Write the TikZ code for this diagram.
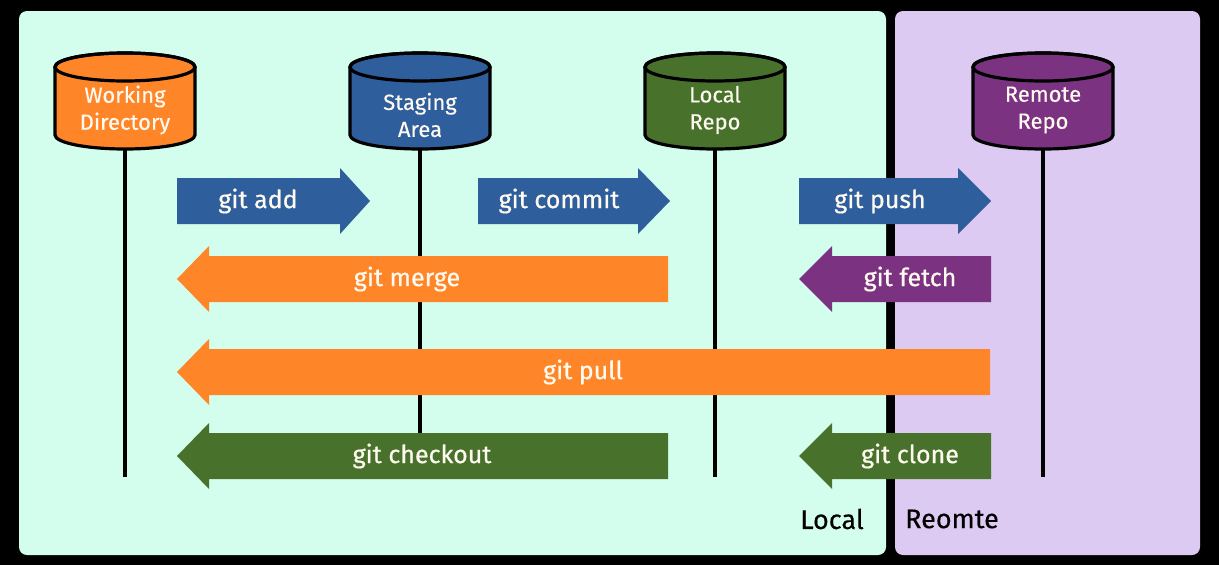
\documentclass[tikz,border=0pt]{standalone}
\usepackage{fontspec}
\setmainfont{Fira Sans}
\definecolor{bgblack}{HTML}{000000}
\definecolor{localbg}{HTML}{D3FDEC}
\definecolor{remotebg}{HTML}{DCCAF3}
\definecolor{gorange}{HTML}{FF8628}
\definecolor{gblue}{HTML}{2F5E9D}
\definecolor{ggreen}{HTML}{48722B}
\definecolor{gpurple}{HTML}{7B3381}
\definecolor{txtwhite}{HTML}{FFFAF0}
\begin{document}
\begin{tikzpicture}[x=1pt,y=1pt,
  panel/.style={rounded corners=8pt},
  cylbox/.style={minimum width=140pt,minimum height=96pt,inner sep=0pt},
  cyllabel/.style={text=txtwhite,font=\fontsize{22}{27}\selectfont\addfontfeatures{FakeBold=0.3},align=center,inner sep=0pt},
  cylshape/.style={draw=black,line width=3.2pt},
  lifeline/.style={draw=black,line width=3.2pt},
  arrowlbl/.style={text=txtwhite,font=\fontsize{25}{30}\selectfont\addfontfeatures{FakeBold=0.6},inner sep=0pt},
  panellbl/.style={text=black,font=\fontsize{27}{30}\selectfont\addfontfeatures{FakeBold=0.3},inner sep=0pt}
]
\fill[bgblack] (0,0) rectangle (1219,-565);
\useasboundingbox (0,0) rectangle (1219,-565);
\fill[localbg,panel] (19,-11) rectangle (886,-555);
\fill[remotebg,panel] (895,-11) rectangle (1200,-555);

% cylinders
\foreach \cx/\col in {125/gorange,420/gblue,715/ggreen,1043/gpurple}{
  \path[cylshape,fill=\col] (\cx-70,-67) -- (\cx-70,-135) arc (180:360:70 and 14) -- (\cx+70,-67) arc (0:180:70 and 14) -- cycle;
  \draw[cylshape] (\cx,-67) ellipse (70 and 14);
}
\node[cylbox] (wd) at (125,-101) {};
\node[cylbox] (sa) at (420,-101) {};
\node[cylbox] (lr) at (715,-101) {};
\node[cylbox] (rr) at (1043,-101) {};
\node[cyllabel] (wdt) at (125,-110) {Working\\Directory};
\node[cyllabel] (sat) at (420,-115) {Staging\\Area};
\node[cyllabel] (lrt) at (715,-110) {Local\\Repo};
\node[cyllabel] (rrt) at (1043,-110) {Remote\\Repo};

\coordinate (wdend) at (125,-477);
\coordinate (saend) at (420,-477);
\coordinate (lrend) at (715,-477);
\coordinate (rrend) at (1043,-477);
\draw[lifeline] (wd.south) -- (wdend);
\draw[lifeline] (sa.south) -- (saend);
\draw[lifeline] (lr.south) -- (lrend);
\draw[lifeline] (rr.south) -- (rrend);

% right arrows: body start, head base, tip, center y
\foreach \s/\b/\t/\y/\col in {177/340/370/-201/gblue,478/638/670/-201/gblue,799/958/991/-201/gblue}{
  \fill[\col] (\s,\y+23) -- (\b,\y+23) -- (\b,\y+33) -- (\t,\y) -- (\b,\y-33) -- (\b,\y-23) -- (\s,\y-23) -- cycle;
}
% left arrows: tip, head base, end, center y
\foreach \t/\b/\e/\y/\col in {177/209/668/-279/gorange,799/832/991/-279/gpurple,177/209/990/-372/gorange,177/209/668/-456/ggreen,799/832/991/-456/ggreen}{
  \fill[\col] (\e,\y+23) -- (\b,\y+23) -- (\b,\y+33) -- (\t,\y) -- (\b,\y-33) -- (\b,\y-23) -- (\e,\y-23) -- cycle;
}
\node[arrowlbl] (add) at (258,-201) {git add};
\node[arrowlbl] (commit) at (559,-201) {git commit};
\node[arrowlbl] (push) at (880,-201) {git push};
\node[arrowlbl] (merge) at (407,-279) {git merge};
\node[arrowlbl] (fetch) at (910,-279) {git fetch};
\node[arrowlbl] (pull) at (583,-372) {git pull};
\node[arrowlbl] (checkout) at (422,-456) {git checkout};
\node[arrowlbl] (clone) at (910,-456) {git clone};

\node[panellbl] (local) at (832,-519) {Local};
\node[panellbl] (remote) at (952,-519) {Reomte};
\end{tikzpicture}
\end{document}
